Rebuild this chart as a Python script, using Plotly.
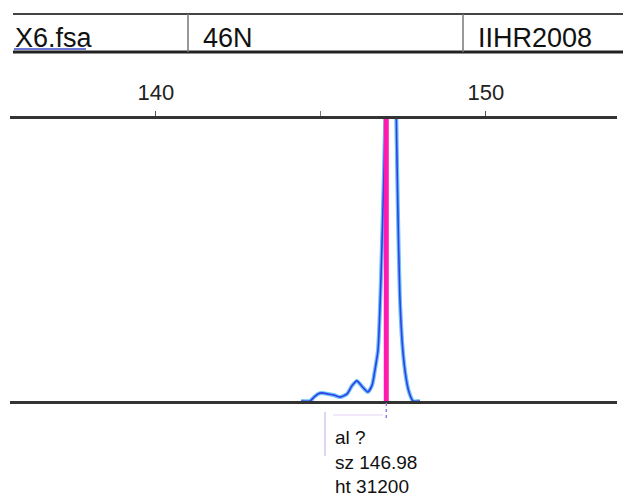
import plotly.graph_objects as go

# ---- data ----
sizes_bp = [144.40, 144.67, 144.79, 144.91, 145.03, 145.21, 145.39, 145.58, 145.79,
            145.94, 146.09, 146.24, 146.42, 146.55, 146.64, 146.73, 146.82, 146.91,
            146.97, 147.05, 147.12, 147.19, 147.27, 147.33, 147.39, 147.48, 147.58,
            147.67, 147.79, 148.00]
rfu = [0, 0, 110, 200, 230, 200, 170, 110, 200,
       430, 570, 420, 255, 450, 900, 1450, 3500, 6500,
       9000, 22000, 31200, 22000, 9000, 5500, 3000, 1450, 650,
       250, 0, 0]

called_size = [146.98]
called_height = [31200]
allele_label = ["?"]

header_texts = ["X6.fsa", "46N", "IIHR2008"]
x_range = [135.58, 153.97]
y_range = [0, 8000]

# ---- layout geometry (pixels) ----
W, H = 623, 500
L, R, T, B = 10, 617, 119, 401


def px(x):
    return (x - L) / (R - L)


def py(y):
    return (B - y) / (B - T)


fig = go.Figure()

# light blue halo of the trace
fig.add_trace(go.Scatter(x=sizes_bp, y=rfu, mode="lines",
                         line=dict(color="#6cc0f5", width=4, shape="spline", smoothing=0.6),
                         hoverinfo="skip", showlegend=False))
# blue core of the trace
fig.add_trace(go.Scatter(x=sizes_bp, y=rfu, mode="lines",
                         line=dict(color="#3040e8", width=1.6, shape="spline", smoothing=0.6),
                         showlegend=False))
# magenta called-peak bar
fig.add_trace(go.Scatter(x=[called_size[0], called_size[0]], y=[0, called_height[0]],
                         mode="lines", line=dict(color="#ff1ab0", width=5),
                         showlegend=False))

shapes = []
# header table lines
shapes.append(dict(type="line", xref="paper", yref="paper", x0=px(13), x1=px(623),
                   y0=py(14), y1=py(14), line=dict(color="#444", width=2)))
shapes.append(dict(type="line", xref="paper", yref="paper", x0=px(13), x1=px(623),
                   y0=py(52), y1=py(52), line=dict(color="#222", width=3)))
for xd in (188, 463):
    shapes.append(dict(type="line", xref="paper", yref="paper", x0=px(xd), x1=px(xd),
                       y0=py(14), y1=py(52), line=dict(color="#777", width=1.5)))
# blue underline of the file name
shapes.append(dict(type="line", xref="paper", yref="paper", x0=px(14), x1=px(86),
                   y0=py(49), y1=py(49), line=dict(color="#3a48c8", width=1.5)))
# label box
shapes.append(dict(type="line", xref="paper", yref="paper", x0=px(325), x1=px(325),
                   y0=py(412), y1=py(456), line=dict(color="#d6c6f2", width=1.5)))
shapes.append(dict(type="line", xref="paper", yref="paper", x0=px(333), x1=px(383),
                   y0=py(415), y1=py(415), line=dict(color="#ece2fa", width=1.5)))
shapes.append(dict(type="line", xref="x", yref="paper", x0=called_size[0], x1=called_size[0],
                   y0=py(403), y1=py(420), line=dict(color="#9a7ae0", width=1.5, dash="dot")))

annotations = []
for txt, xl in zip(header_texts, (13, 201, 476)):
    annotations.append(dict(text=txt, xref="paper", yref="paper", x=px(xl), y=py(38),
                            xanchor="left", yanchor="middle", showarrow=False,
                            font=dict(family="Liberation Sans, Arial", size=27, color="#111")))
label_lines = ["al " + allele_label[0], "sz %.2f" % called_size[0], "ht %d" % called_height[0]]
for txt, yc in zip(label_lines, (437, 462, 486)):
    annotations.append(dict(text=txt, xref="paper", yref="paper", x=px(333), y=py(yc),
                            xanchor="left", yanchor="middle", showarrow=False,
                            font=dict(family="Liberation Sans, Arial", size=19, color="#111")))

fig.update_layout(
    width=W, height=H,
    margin=dict(l=L, r=W - R, t=T, b=H - B, pad=0),
    paper_bgcolor="white", plot_bgcolor="white",
    shapes=shapes, annotations=annotations,
    xaxis=dict(range=x_range, side="top", showgrid=False, zeroline=False,
               showline=True, linecolor="#333", linewidth=3, mirror=True,
               tick0=140, dtick=10, ticks="outside", ticklen=5, tickcolor="#555",
               tickwidth=1, ticklabelstandoff=2,
               minor=dict(dtick=5, ticks="outside", ticklen=5, tickcolor="#777"),
               tickfont=dict(family="Liberation Sans, Arial", size=22, color="#222"),
               fixedrange=True),
    yaxis=dict(range=y_range, visible=False, fixedrange=True),
)

fig.write_html("out.html")
